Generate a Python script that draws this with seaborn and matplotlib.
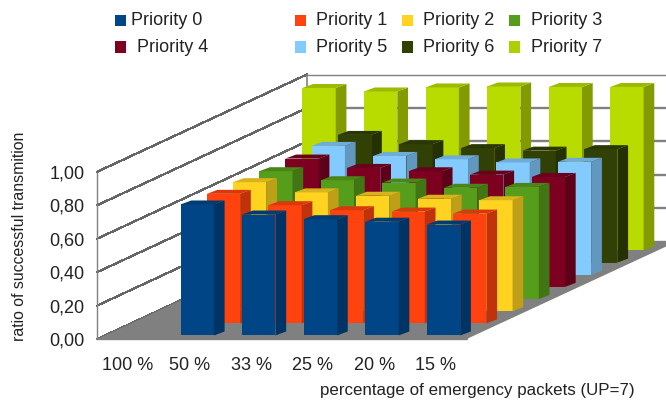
import numpy as np
import pandas as pd
import matplotlib
matplotlib.use("Agg")
import matplotlib.pyplot as plt
import seaborn as sns
from matplotlib.patches import Polygon, Rectangle
from matplotlib.transforms import Affine2D

categories = ["100 %", "50 %", "33 %", "25 %", "20 %", "15 %"]
yticks = [0.0, 0.2, 0.4, 0.6, 0.8, 1.0]
ytick_labels = ["0,00", "0,20", "0,40", "0,60", "0,80", "1,00"]

priority_0 = [np.nan, 0.783, 0.723, 0.695, 0.68, 0.663]
priority_1 = [np.nan, 0.774, 0.706, 0.676, 0.668, 0.656]
priority_2 = [np.nan, 0.771, 0.71, 0.69, 0.672, 0.663]
priority_3 = [np.nan, 0.764, 0.71, 0.696, 0.665, 0.67]
priority_4 = [np.nan, 0.767, 0.711, 0.691, 0.671, 0.657]
priority_5 = [np.nan, 0.77, 0.71, 0.69, 0.671, 0.675]
priority_6 = [np.nan, 0.763, 0.708, 0.684, 0.669, 0.678]
priority_7 = [0.971, 0.95, 0.974, 0.98, 0.977, 0.977]
series = [priority_0, priority_1, priority_2, priority_3,
          priority_4, priority_5, priority_6, priority_7]
names = [f"Priority {i}" for i in range(8)]

colors = ["#004586", "#ff420e", "#ffd320", "#579d1c",
          "#7e0021", "#83caff", "#314004", "#aecf00"]
front_colors = colors[:-1] + ["#b8dc00"]

W, H = 666, 403
PX_X = 61.57   # pixels per category
PX_Y = 167.3   # pixels per 1.0
SLOT_X = 26.2 / PX_X   # depth of one series slot
SLOT_Y = 12.15 / PX_Y
BAR_X = 10.7 / PX_X    # depth of a bar
BAR_Y = 4.0 / PX_Y
WIDTH = 33.3 / PX_X


def shade(c, f):
    return tuple(v * f for v in matplotlib.colors.to_rgb(c))


def px(x, y):
    return x / W, 1 - y / H


sns.set_theme(style="white")
plt.rcParams["font.family"] = ["Liberation Sans", "DejaVu Sans"]

df = pd.DataFrame({"pct": categories})
for name, values in zip(names, series):
    df[name] = values
long_df = df.melt(id_vars="pct", var_name="priority", value_name="ratio").dropna()

fig = plt.figure(figsize=(W / 100, H / 100), dpi=100)
ax = fig.add_axes([0, 0, 1, 1])

for s, name in enumerate(names):
    n = len(ax.patches)
    z = 20 - s  # front series paints over the ones behind
    sns.barplot(data=long_df[long_df["priority"] == name], x="pct", y="ratio",
                order=categories, color=front_colors[s], saturation=1,
                width=WIDTH, linewidth=0, errorbar=None, ax=ax, zorder=z)
    ox = (s + 0.29) * SLOT_X
    oy = (s + 0.29) * SLOT_Y
    for bar in list(ax.patches[n:]):
        bar.set_transform(Affine2D().translate(ox, oy) + ax.transData)
        x1 = bar.get_x() + bar.get_width() + ox
        x0 = bar.get_x() + ox
        top = bar.get_height() + oy
        ax.add_patch(Polygon([(x1, oy), (x1 + BAR_X, oy + BAR_Y),
                              (x1 + BAR_X, top + BAR_Y), (x1, top)],
                             fc=shade(colors[s], 0.75), lw=0, zorder=z))
        ax.add_patch(Polygon([(x0, top), (x1, top),
                              (x1 + BAR_X, top + BAR_Y), (x0 + BAR_X, top + BAR_Y)],
                             fc=shade(front_colors[s], 0.85), lw=0, zorder=z))

# floor and walls
back_x = 8 * SLOT_X
back_y = 8 * SLOT_Y
ax.add_patch(Polygon([(-0.5, 0), (5.5, 0), (5.5 + back_x, back_y), (-0.5 + back_x, back_y)],
                     fc="#808080", ec="none", zorder=1))
for v in yticks:
    ax.plot([-0.5, -0.5 + back_x], [v, v + back_y], color="#666666", lw=0.9,
            antialiased=False, zorder=0.5)
    ax.plot([-0.5 + back_x, 5.5 + back_x], [v + back_y, v + back_y], color="#808080",
            lw=1.0 if v == 1.0 else 1.7, zorder=0.5)
ax.plot([-0.5, -0.5], [0, 1], color="#808080", lw=1, zorder=0.6)
ax.plot([-0.5 + back_x] * 2, [back_y, 1 + back_y], color="#808080", lw=1.2, zorder=0.6)
ax.plot([-0.5, 5.5], [0, 0], color="#808080", lw=1.7, zorder=2)

left = -0.5 - 97.3 / PX_X
bottom = -(H - 339) / PX_Y
ax.set_xlim(left, left + W / PX_X)
ax.set_ylim(bottom, bottom + H / PX_Y)
ax.set_axis_off()

for i, label in enumerate(categories):
    ax.text(i, -27 / PX_Y, label, ha="center", va="center", fontsize=13, color="#222222")
for v, label in zip(yticks, ytick_labels):
    ax.text(-0.5 - 12.5 / PX_X, v - 2 / PX_Y, label, ha="right", va="center",
            fontsize=13, color="#222222")

fig.text(*px(477, 390), "percentage of emergency packets (UP=7)", ha="center", va="center",
         fontsize=12.2, color="#222222")
fig.text(*px(20, 236), "ratio of successful transmition", rotation=90, ha="center", va="center",
         fontsize=11.4, color="#222222")

# legend
legend_x = [(114.5, 131), (294.5, 316), (401.5, 423), (508.5, 531),
            (114.5, 137), (294.5, 316), (401.5, 423), (508.5, 531)]
for s, name in enumerate(names):
    y = 20.5 if s < 4 else 47
    sq, tx = legend_x[s]
    fig.add_artist(Rectangle(px(sq, y + 5.5), 11.5 / W, 11 / H, transform=fig.transFigure,
                             fc=colors[s], lw=0))
    fig.text(*px(tx, y), name, ha="left", va="center", fontsize=13, color="#222222")

fig.savefig("out.png", dpi=100)
